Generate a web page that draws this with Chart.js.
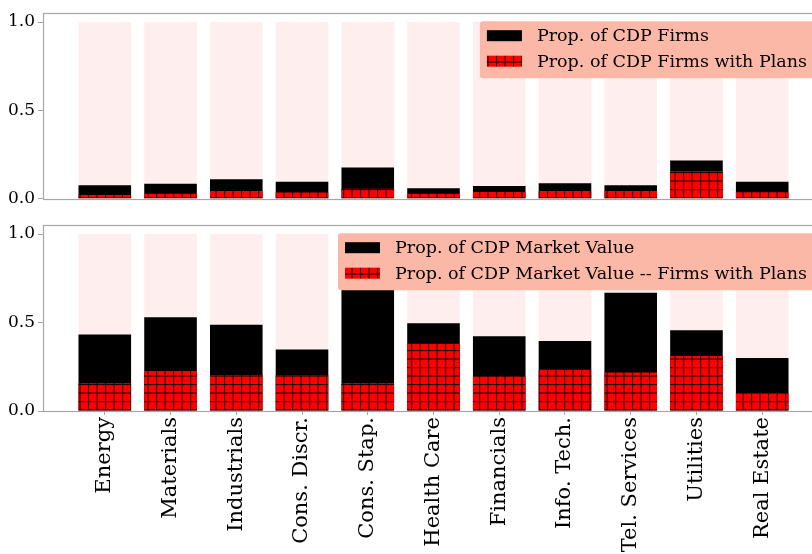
<!DOCTYPE html>
<html>
<head>
<meta charset="utf-8">
<script src="https://cdn.jsdelivr.net/npm/chart.js@4.4.1/dist/chart.umd.min.js"></script>
<style>
  html, body { margin:0; padding:0; background:#fff; width:812px; height:554px; overflow:hidden; }
  canvas { position:absolute; left:0; }
  #topChart { top:0; }
  #bottomChart { top:212px; }
</style>
</head>
<body>
<canvas id="topChart" width="830" height="212"></canvas>
<canvas id="bottomChart" width="830" height="342"></canvas>
<script>
const sectors = ["Energy","Materials","Industrials","Cons. Discr.","Cons. Stap.","Health Care","Financials","Info. Tech.","Tel. Services","Utilities","Real Estate"];
const fullShare = [1,1,1,1,1,1,1,1,1,1,1];
const firmsProp = [0.077,0.085,0.110,0.096,0.177,0.059,0.072,0.088,0.076,0.217,0.096];
const firmsPlansProp = [0.022,0.029,0.044,0.035,0.057,0.029,0.039,0.044,0.044,0.156,0.037];
const valueProp = [0.432,0.530,0.487,0.348,0.720,0.496,0.422,0.396,0.668,0.457,0.300];
const valuePlansProp = [0.157,0.226,0.204,0.202,0.157,0.380,0.196,0.233,0.218,0.311,0.102];
const yTicks = [0, 0.5, 1.0];

const FONT = "'DejaVu Serif', serif";
const SPINE = "#a6a6a6";

function hatch(canvas){
  const c = document.createElement("canvas");
  c.width = 8; c.height = 8;
  const g = c.getContext("2d");
  g.fillStyle = "#ff0000"; g.fillRect(0,0,8,8);
  g.fillStyle = "rgba(0,0,0,0.9)";
  g.fillRect(0,0,8,1); g.fillRect(0,0,1,8);
  const p = canvas.getContext("2d").createPattern(c, "repeat");
  p.setTransform(new DOMMatrix([8.5/8,0,0,8.5/8,3,2]));
  return p;
}

const pts = arr => arr.map((v,i)=>({x:i, y:v}));

// frame around the plot area, like matplotlib spines
const frame = {
  id:"frame",
  afterDraw(chart){
    const a = chart.chartArea, ctx = chart.ctx;
    ctx.save();
    ctx.strokeStyle = SPINE; ctx.lineWidth = 1.2;
    ctx.strokeRect(Math.round(a.left)+0.5, Math.round(a.top)+0.5, Math.round(a.right-a.left), Math.round(a.bottom-a.top));
    ctx.restore();
  }
};

// legend box drawn in upper right corner of the plot area
const legendBox = {
  id:"legendBox",
  afterDatasetsDraw(chart){
    const ctx = chart.ctx, a = chart.chartArea;
    const items = chart.data.datasets.filter(d=>d.label);
    ctx.save();
    ctx.font = "17.5px " + FONT;
    const tw = Math.max(...items.map(d=>ctx.measureText(d.label).width));
    const right = a.right - 8, top = a.top + 8;
    const w = 7 + 35 + 15 + tw + 9, h = 57;
    const left = right - w;
    ctx.fillStyle = "#fcb8a7";
    ctx.beginPath(); ctx.roundRect(left, top, w, h, 3); ctx.fill();
    items.forEach((d,i)=>{
      const cy = top + 14.5 + i*25.5;
      ctx.fillStyle = d.backgroundColor;
      ctx.fillRect(left+7, cy-5.5, 35, 11);
      ctx.fillStyle = "#000";
      ctx.textBaseline = "middle";
      ctx.fillText(d.label, left+57, cy+1);
    });
    ctx.restore();
  }
};

function makeChart(id, total, withPlans, labels, showX, padTop, xHeight){
  const canvas = document.getElementById(id);
  return new Chart(canvas, {
    type:"bar",
    data:{
      datasets:[
        { label:labels[0], data:pts(total), backgroundColor:"#000000", order:1 },
        { label:labels[1], data:pts(withPlans), backgroundColor:hatch(canvas), order:0 },
        { label:"", data:pts(fullShare), backgroundColor:"#ffeeee", order:2 }
      ]
    },
    options:{
      responsive:false,
      animation:false,
      devicePixelRatio:1,
      layout:{ padding:{ top:padTop, right:6, left:0, bottom:0 } },
      datasets:{ bar:{ grouped:false, categoryPercentage:1, barPercentage:0.8, borderWidth:0 } },
      plugins:{ legend:{display:false}, tooltip:{enabled:false} },
      scales:{
        x:{
          type:"linear", min:-0.94, max:10.94, offset:false,
          afterBuildTicks: s => { s.ticks = sectors.map((c,i)=>({value:i})); },
          afterFit: s => { s.height = xHeight; },
          grid:{ display:showX, drawOnChartArea:false, tickLength:4, color:SPINE, offset:false },
          border:{ display:false },
          ticks:{
            display:showX, autoSkip:false, maxRotation:90, minRotation:90, padding:2,
            color:"#000", font:{ family:FONT, size:21 },
            callback: v => sectors[v]
          }
        },
        y:{
          min:0, max:1.05,
          afterBuildTicks: s => { s.ticks = yTicks.map(v=>({value:v})); },
          afterFit: s => { s.width = 43; },
          grid:{ drawOnChartArea:false, tickLength:5, color:SPINE },
          border:{ display:false },
          ticks:{ padding:3, color:"#000", font:{ family:FONT, size:17 }, callback: v => v.toFixed(1) }
        }
      }
    },
    plugins:[legendBox, frame]
  });
}

makeChart("topChart", firmsProp, firmsPlansProp,
  ["Prop. of CDP Firms","Prop. of CDP Firms with Plans"], false, 9, 13);
makeChart("bottomChart", valueProp, valuePlansProp,
  ["Prop. of CDP Market Value","Prop. of CDP Market Value -- Firms with Plans"], true, 10, 143);
</script>
</body>
</html>
